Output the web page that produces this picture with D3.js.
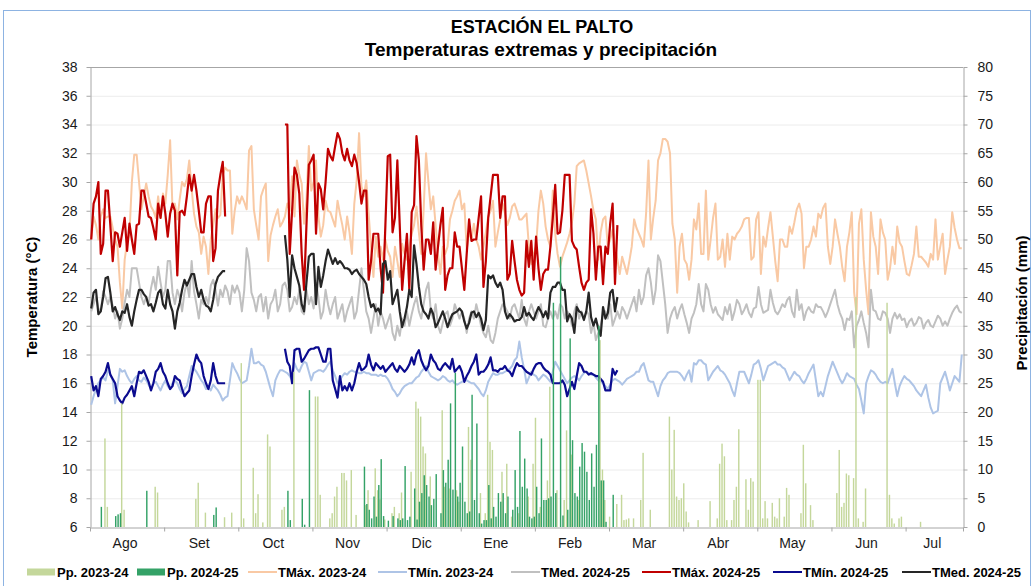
<!DOCTYPE html>
<html>
<head>
<meta charset="utf-8">
<script src="https://cdn.jsdelivr.net/npm/d3@7"></script>
<style>
  body { margin: 0; background: #fff; }
  svg { display: block; font-family: "Liberation Sans", Arial, sans-serif; }
</style>
</head>
<body>
<script>
// ---- data (daily values, Aug -> Jul) ----
var monthLabels = ["Ago", "Set", "Oct", "Nov", "Dic", "Ene", "Feb", "Mar", "Abr", "May", "Jun", "Jul"];

// TMax 2023-24
var tmax2324 = [
  26.0,27.6,27.0,26.0,27.6,28.1,27.5,27.6,27.6,26.8,26.0,25.5,23.0,21.2,24.6,25.8,26.4,30.0,31.9,31.9,30.0,28.1,29.0,29.9,29.0,28.3,28.0,27.5,29.0,27.5,29.2, // ago
  28.5,30.5,32.9,28.1,28.5,27.4,28.8,30.0,29.7,30.2,31.5,29.5,27.8,26.9,26.5,25.0,26.2,25.5,23.6,26.0,27.0,28.1,27.5,27.7,30.5,31.0,30.8,30.8,26.4,28.0, // set
  29.0,28.5,29.0,28.6,28.1,32.2,32.5,28.1,27.0,26.0,29.0,29.5,29.9,24.5,26.3,27.0,27.6,28.1,26.9,27.2,27.6,28.5,28.0,30.4,27.6,31.5,30.5,29.9,27.1,28.7,32.5, // oct
  29.4,30.0,31.5,27.6,26.2,27.0,28.7,28.0,27.9,27.4,26.9,28.7,27.8,27.0,26.0,27.6,26.5,25.0,28.5,30.1,33.4,29.7,29.0,30.1,27.8,25.5,23.4,26.2,24.8,25.5, // nov
  24.6,26.0,25.2,24.8,23.4,25.5,24.5,23.4,25.7,25.0,24.6,25.5,26.4,27.0,28.3,26.5,25.0,28.1,32.0,30.0,28.1,29.0,27.0,25.0,23.6,25.5,25.0,25.5,27.4,28.0,28.7, // dic
  29.0,29.4,28.1,28.5,25.3,26.5,26.0,27.1,26.0,25.5,24.6,25.5,26.5,27.6,28.0,28.7,25.5,26.5,27.4,28.5,27.8,27.0,27.5,28.3,28.5,28.0,27.4,27.4,27.6,27.8,25.5, // ene
  24.3,25.0,25.5,28.0,29.4,28.5,26.9,26.0,25.5,29.4,26.4,25.0,24.1,24.8,25.3,25.8,26.4,27.2,28.5,31.1,31.3,31.4,31.5,30.8,29.9,29.0,28.0,27.4,24.6, // feb
  26.5,27.4,27.6,25.5,26.0,26.7,25.5,24.6,23.6,24.8,24.2,23.6,24.5,25.5,27.4,26.8,26.4,26.0,25.5,27.8,31.5,26.0,27.5,28.7,31.5,32.0,33.0,33.0,32.8,32.0,27.1, // mar
  26.0,22.3,25.5,26.4,24.6,24.3,23.2,24.6,27.4,26.7,28.5,25.0,25.0,29.4,24.6,26.0,27.5,28.5,24.6,24.8,26.0,24.1,26.4,24.6,26.2,26.0,26.4,26.6,26.9,27.4, // abr
  27.5,27.5,24.6,24.8,27.4,27.9,23.6,26.2,25.5,26.8,27.9,26.2,24.5,23.1,26.0,26.0,25.5,25.5,26.9,26.4,27.2,28.1,28.5,27.8,24.0,25.5,25.5,26.0,26.9,26.2,27.8, // may
  27.5,28.2,28.5,25.5,24.3,25.5,27.4,26.4,25.5,24.1,23.1,25.5,26.5,27.9,22.3,20.8,27.1,28.1,24.6,22.5,20.8,27.9,26.2,25.5,23.6,27.4,26.5,26.0,23.2,24.0, // jun
  25.5,24.3,26.9,25.8,25.5,24.5,23.6,23.5,24.2,25.0,26.9,24.8,24.8,24.6,24.4,24.1,25.0,24.6,27.4,24.6,25.5,26.4,23.6,24.6,25.5,27.9,26.8,26.0,25.4,25.4  // jul
];

// TMin 2023-24
var tmin2324 = [
  14.5,15.1,15.6,16.0,16.2,16.4,16.2,16.9,16.6,16.2,14.6,15.8,17.0,16.8,16.9,16.5,16.2,16.0,16.3,16.5,16.2,16.1,16.4,16.2,15.9,15.6,16.0,16.1,15.8,15.5,15.9,
  16.2,15.8,15.6,16.0,16.2,16.0,15.6,15.3,15.6,15.8,16.5,17.2,17.0,16.8,16.5,16.2,16.0,15.6,15.8,15.5,15.9,15.7,15.5,15.2,14.8,15.0,15.1,16.2,17.4,17.0,
  16.7,16.3,16.0,16.1,16.2,17.2,18.4,17.4,17.4,17.5,17.3,17.2,16.8,16.2,15.6,15.1,16.2,16.6,16.9,16.9,16.8,16.7,16.5,16.2,17.4,17.0,16.8,17.2,17.5,17.4,16.8,
  16.2,16.7,16.8,16.9,16.9,16.8,17.0,17.3,17.5,16.9,16.5,16.0,16.2,16.5,16.7,16.6,16.8,16.9,16.8,16.8,16.7,16.7,16.8,16.7,16.7,16.6,16.6,16.6,16.5,16.6,
  16.5,16.5,16.3,16.0,15.6,15.4,15.1,15.3,15.6,15.8,15.9,16.0,16.0,16.2,16.4,16.5,16.8,17.0,17.2,16.8,16.5,16.4,16.3,16.2,16.3,16.5,16.4,16.2,16.1,16.2,16.0,
  15.9,16.0,16.1,16.2,16.2,16.1,16.0,16.0,15.8,15.6,15.3,15.1,15.5,16.1,16.4,16.7,16.6,16.6,16.7,16.7,16.8,16.9,17.0,17.2,17.6,17.8,18.9,17.8,17.0,16.0,16.4,
  16.8,16.6,16.5,16.2,16.4,16.6,16.5,16.3,16.1,16.8,17.5,17.2,16.9,16.6,16.3,16.0,16.2,16.4,16.5,16.4,16.2,16.5,16.7,16.8,16.7,16.6,16.6,16.4,16.2,
  16.1,16.0,15.8,15.6,15.9,16.2,16.3,16.2,16.1,15.9,16.1,16.3,16.4,16.5,16.6,16.8,16.8,17.2,17.4,16.8,16.2,16.1,16.1,15.6,15.1,15.8,16.2,16.4,16.7,16.8,16.8,
  16.8,16.8,16.7,16.5,16.2,16.6,16.9,16.1,17.4,17.3,17.6,17.6,17.4,17.3,16.2,16.5,16.8,17.0,17.2,16.9,16.8,16.6,16.3,16.0,15.5,15.1,16.0,16.8,16.8,16.8,
  16.4,16.0,16.6,17.3,17.4,17.6,17.0,16.2,16.7,17.2,17.3,17.4,17.5,17.3,17.3,17.1,17.0,16.6,16.2,16.5,16.8,16.6,16.5,16.2,16.0,16.3,16.7,17.0,17.3,16.2,15.1,
  15.4,15.1,15.8,16.5,17.0,17.5,17.1,16.7,16.3,16.0,16.3,16.7,16.5,16.4,16.3,15.9,15.6,14.8,13.9,16.0,16.5,16.9,16.8,16.6,16.3,16.1,16.0,16.1,16.0,16.5,
  17.0,16.0,15.1,15.8,16.2,16.5,16.3,16.2,16.0,15.8,15.5,15.3,15.1,15.5,15.9,15.0,14.3,13.9,14.0,14.1,16.0,16.4,16.8,16.2,15.5,16.0,16.5,16.3,16.1,18.0
];

// TMed 2023-24 (legend text in the original reads "TMed. 2024-25")
var tmed2324 = [
  21.0,21.5,22.0,21.2,21.0,22.4,22.0,21.5,22.0,21.4,20.5,21.0,19.8,20.5,21.6,22.5,22.0,24.0,24.0,24.0,23.0,22.0,21.5,22.0,21.5,22.6,23.4,22.5,24.1,23.0,22.0,
  22.5,24.5,24.5,22.3,21.5,22.5,22.0,21.0,22.3,23.0,22.0,24.5,22.4,21.5,20.5,21.8,21.5,22.0,21.5,22.8,23.2,22.5,21.4,22.5,22.0,22.8,22.4,21.5,22.8,22.3,
  22.8,22.3,21.0,22.5,25.4,24.5,22.3,21.8,21.0,22.0,22.2,21.0,22.0,20.5,21.5,21.8,22.5,21.0,21.5,22.8,23.0,22.5,21.0,21.3,22.0,21.5,22.5,21.0,20.8,22.5,21.5,
  22.0,21.2,23.0,22.0,20.5,21.0,22.5,21.5,20.8,21.5,22.0,20.5,21.0,21.5,20.3,21.0,21.5,22.0,20.5,21.0,22.5,24.0,22.5,21.0,20.5,19.5,20.5,21.5,20.0,21.0,
  20.5,19.8,20.3,20.8,19.5,19.0,20.0,19.3,20.5,20.0,21.0,20.0,20.8,21.5,22.0,21.0,20.5,21.5,22.5,23.0,21.0,20.5,21.5,20.0,19.5,20.2,20.8,21.0,20.0,20.5,21.5,
  21.0,20.5,21.0,20.5,19.5,20.5,21.0,20.5,21.5,20.8,20.0,19.5,19.2,20.0,19.0,18.8,19.5,20.5,21.0,21.5,21.3,21.0,20.5,21.3,21.5,21.0,20.5,21.8,20.5,20.0,21.0,
  21.5,21.0,20.5,21.0,21.5,20.0,19.9,20.5,21.0,20.5,21.0,20.5,21.5,21.3,20.5,21.0,20.8,20.0,21.0,21.5,20.5,21.0,20.5,21.0,20.8,19.5,20.2,19.0,19.5,
  20.0,20.8,21.0,20.5,21.5,20.0,20.5,21.0,20.5,21.3,21.0,20.5,21.0,21.5,22.0,21.0,22.5,21.5,22.0,23.5,24.0,23.0,21.5,22.5,24.9,24.5,23.0,21.5,19.5,20.5,21.0,
  21.3,20.5,21.1,21.5,20.8,20.2,19.5,20.5,20.9,21.5,22.9,21.5,21.0,22.9,22.5,21.5,20.9,21.3,20.8,20.6,20.4,21.3,20.8,21.5,20.4,21.0,21.8,21.5,20.8,21.1,
  21.5,20.9,20.6,21.2,21.3,22.7,21.5,20.9,21.0,21.1,22.5,21.6,21.0,20.8,21.1,21.5,21.3,21.8,22.0,21.0,20.6,22.5,21.1,21.5,20.4,21.0,21.3,21.0,20.9,21.5,21.3,
  21.3,21.0,20.6,21.0,21.5,22.0,22.5,21.5,20.9,20.5,19.7,20.5,20.4,21.0,18.5,20.0,20.4,21.0,20.2,19.5,18.5,22.5,21.1,21.0,20.5,20.4,21.0,20.9,20.5,19.5,
  20.5,20.9,20.5,20.8,20.4,20.5,19.9,20.3,20.5,20.0,20.2,20.6,20.5,19.8,20.2,20.4,20.0,19.9,20.3,20.7,20.5,20.0,20.3,20.0,20.5,20.9,21.2,21.4,21.0,20.9
];

// 2024-25 records come in two stretches: from day 0 and from day 81 (22 Oct)
var segStart2425 = [0, 81];

var tmax2425a = [
  26.0,28.5,29.0,30.0,25.0,25.7,29.4,29.4,27.0,24.5,26.5,26.4,25.5,26.5,27.5,25.2,27.1,26.0,25.0,27.0,
  27.1,29.4,29.4,28.5,27.6,27.5,26.8,26.0,28.5,27.5,29.0,27.8,26.2,27.8,28.5,28.0,23.5,27.9,28.0,27.7,
  29.0,30.5,29.4,30.5,29.4,28.0,26.5,26.5,28.5,29.0,29.0,24.5,25.4,29.4,30.5,31.4,27.6
];
var tmax2425b = [
  34.0,34.0,25.0,28.0,31.0,30.5,29.2,25.0,22.5,27.0,31.2,31.5,31.9,26.4,29.9,29.5,28.1,30.0,32.3,31.8,
  31.5,32.5,33.4,33.0,32.0,31.5,32.3,31.5,31.1,31.9,31.3,30.0,28.5,29.4,29.4,23.2,24.5,26.4,26.4,26.4,
  24.0,22.3,27.0,31.8,31.9,26.5,27.5,31.5,27.0,22.5,24.5,26.4,22.5,27.9,28.4,33.2,31.5,27.0,23.9,26.0,
  26.0,25.0,27.2,23.9,25.5,27.0,28.2,22.5,23.5,24.0,24.0,26.5,25.5,25.5,24.0,22.5,25.0,27.4,25.9,26.0,
  26.0,27.5,29.0,22.7,24.5,27.5,29.0,30.5,30.5,30.5,27.5,29.0,29.0,23.2,23.6,25.9,24.5,23.2,22.5,22.1,
  22.3,25.9,24.1,25.9,23.2,26.2,24.0,22.5,23.6,23.9,23.9,25.5,27.5,29.8,26.4,26.5,28.0,30.5,30.5,30.5,
  25.9,25.5,25.3,24.1,23.0,22.5,23.0,23.2,28.1,26.4,23.2,25.5,25.5,22.9,25.5,25.0,27.1,28.5,22.9,27.0
];

var tmin2425a = [
  16.5,15.5,15.8,15.1,16.3,16.5,16.8,17.4,16.6,16.3,16.0,15.1,14.8,14.6,15.0,15.2,15.5,15.8,15.1,16.0,
  16.8,16.7,16.9,16.5,16.1,15.5,16.0,16.8,17.0,17.4,16.8,16.5,16.0,15.6,15.8,16.5,16.3,16.2,15.6,15.1,
  15.3,15.5,16.5,17.3,18.0,17.6,17.4,16.5,16.0,15.6,16.2,17.4,16.5,16.0,16.0,16.0,16.0
];
var tmin2425b = [
  18.4,17.5,17.2,16.0,18.3,18.4,18.4,17.5,17.7,18.0,18.3,18.4,18.4,18.5,18.5,18.0,17.5,17.5,18.4,18.4,
  16.2,15.6,15.0,16.5,15.5,15.8,15.5,16.0,15.5,16.0,16.8,17.4,16.9,17.0,17.2,18.0,17.3,16.9,17.4,17.2,
  17.0,17.2,16.8,17.0,17.2,17.4,17.0,16.8,17.2,17.0,16.8,17.0,17.3,17.8,17.3,18.0,18.3,17.6,17.2,16.9,
  17.2,18.0,17.6,17.4,17.0,16.9,17.2,17.4,17.2,17.0,17.7,16.8,17.0,17.2,16.8,16.1,16.5,16.8,17.2,17.5,
  18.0,16.6,16.8,16.8,17.0,17.3,17.8,16.9,16.9,16.8,17.0,17.0,17.2,16.9,16.8,16.5,17.0,17.4,17.2,17.2,
  17.0,16.8,16.7,16.6,17.0,17.3,17.4,17.4,17.1,16.9,16.8,16.6,16.0,16.0,16.0,16.0,16.2,15.9,15.1,15.6,
  16.1,15.6,16.5,17.4,17.2,16.8,16.8,16.6,16.7,16.6,16.5,16.5,16.3,16.1,15.5,15.5,15.5,17.0,16.6,16.9
];

var tmed2425a = [
  21.2,22.3,22.5,20.8,21.0,22.0,23.3,23.4,22.3,21.0,21.3,20.8,20.4,21.0,20.9,21.5,20.6,20.0,21.0,21.8,
  22.5,22.5,22.2,22.0,21.4,21.5,21.0,21.6,22.3,22.5,21.5,21.2,22.5,21.5,21.0,19.8,21.0,21.6,22.5,23.2,
  22.8,23.2,23.6,23.6,22.7,22.0,22.5,21.8,21.4,21.3,21.0,21.8,22.9,23.4,23.6,23.8,23.8
];
var tmed2425b = [
  26.3,24.6,22.0,24.9,24.0,23.4,22.8,21.5,21.0,23.0,24.8,25.0,25.0,21.5,24.1,22.7,23.5,24.5,25.3,24.8,
  24.3,24.7,24.3,24.5,24.3,24.0,24.0,23.9,23.6,23.8,23.9,23.6,23.4,23.2,22.9,22.0,21.3,21.5,21.0,21.2,
  20.8,24.3,24.5,23.2,23.8,21.5,22.0,22.5,21.0,19.9,20.5,21.3,22.5,22.0,25.6,24.3,22.7,21.5,21.0,20.8,
  20.5,21.2,20.8,19.9,20.2,20.6,21.0,20.5,19.9,20.4,20.8,20.9,21.0,21.2,21.0,20.3,19.8,20.2,20.9,21.0,
  20.6,20.9,20.5,19.7,20.4,23.5,23.3,23.5,23.0,22.7,23.0,22.5,21.0,20.5,20.8,20.6,20.3,20.4,20.4,20.6,
  21.3,20.7,20.9,20.6,20.4,20.9,21.3,21.0,20.6,21.0,20.5,22.3,22.7,22.7,23.0,23.0,22.5,22.5,20.3,20.8,
  20.5,19.5,21.3,21.0,20.9,20.4,21.0,22.3,20.6,20.0,20.5,19.8,19.3,21.3,20.5,20.9,22.3,22.5,21.0,22.0
];

// daily rainfall, [day, mm] for the rainy days only
var pp2324 = [
  [6,15.4],[7,3.5],[13,21.5],[14,3.0],[27,7.0],[28,6.0],[44,4.9],[45,7.7],[48,2.5],[56,1.7],[59,2.5],
  [63,28.5],[64,1.5],[68,10.3],[69,2.4],[70,5.7],[72,0.8],[74,16.1],[75,14.0],[80,3.0],[81,3.5],[85,27.0],
  [94,22.7],[95,22.7],[96,5.6],[100,1.5],[101,2.4],[102,5.3],[103,7.0],[105,9.4],[106,9.4],[107,8.1],[109,9.9],
  [111,2.1],[115,3.8],[116,6.4],[119,10.2],[120,6.4],[121,4.8],[123,1.3],[126,2.4],[127,3.5],[129,2.4],[130,6.0],
  [134,9.6],[136,21.8],[137,20.6],[138,19.2],[139,14.0],[140,12.8],[142,8.8],[147,20.3],[148,7.0],[150,6.7],
  [153,6.4],[154,4.4],[158,17.4],[159,11.7],[163,5.9],[165,2.4],[166,23.0],[167,14.8],[168,13.4],[172,9.6],
  [174,11.0],[176,1.8],[179,2.4],[183,5.3],[185,11.0],[186,19.0],[188,3.5],[191,8.1],[192,24.4],[195,6.4],
  [198,4.7],[199,16.8],[201,12.6],[204,4.7],[213,32.5],[214,10.0],[215,4.7],[217,1.8],[220,4.0],[222,5.6],
  [223,1.2],[224,1.3],[225,1.5],[227,1.5],[230,4.7],[231,12.9],[234,3.0],[242,19.2],[243,10.0],[244,16.9],
  [245,5.3],[246,4.7],[247,5.0],[248,7.6],[249,2.7],[250,0.8],[254,1.2],[259,4.5],[262,1.5],[263,11.0],
  [264,14.5],[265,12.3],[266,1.2],[268,1.2],[269,4.7],[270,7.0],[271,17.0],[274,8.3],[275,3.0],[276,8.5],
  [277,7.9],[279,25.6],[280,25.6],[281,1.5],[282,4.5],[283,1.5],[285,4.2],[286,1.8],[287,1.5],[288,5.0],
  [290,1.8],[291,6.8],[292,5.6],[297,2.4],[298,14.3],[299,7.6],[301,3.8],[302,1.2],[312,5.9],[313,13.4],
  [314,3.5],[315,4.2],[316,9.3],[317,9.0],[319,8.5],[320,40.0],[321,1.5],[323,0.9],[324,6.7],[333,39.0],
  [334,5.6],[335,1.5],[336,0.6],[338,1.5],[339,1.8],[347,0.9]
];
var pp2425 = [
  [4,3.5],[10,1.9],[11,2.2],[12,2.4],[23,6.3],[51,2.1],[52,3.4],[82,6.3],[83,1.2],[88,4.9],[89,0.4],[91,23.8],
  [114,10.5],[115,4.0],[116,3.0],[117,1.5],[118,5.3],[119,1.8],[120,7.3],[121,11.8],[122,1.9],[124,1.1],
  [126,1.9],[128,1.5],[129,1.2],[130,1.5],[131,10.6],[132,1.2],[133,1.8],[135,6.7],[136,1.3],[137,4.4],
  [138,5.9],[139,9.0],[140,7.3],[141,5.3],[142,3.8],[143,4.9],[144,9.2],[146,2.4],[147,9.9],[148,7.7],
  [149,11.7],[150,21.5],[151,6.5],[152,26.8],[153,5.3],[154,7.7],[155,14.0],[156,4.4],[157,2.4],[158,2.7],
  [159,23.0],[160,4.7],[161,18.0],[162,2.4],[163,0.6],[164,1.2],[165,1.2],[166,7.3],[167,1.5],[168,3.5],
  [169,1.8],[170,5.9],[171,4.4],[172,5.9],[173,2.4],[174,5.3],[176,3.0],[177,9.9],[178,3.5],[179,16.7],
  [180,7.0],[181,11.9],[182,6.7],[183,1.8],[184,1.5],[185,1.8],[186,7.0],[187,2.4],[188,15.4],[189,4.7],
  [190,4.7],[191,5.0],[192,5.3],[193,39.0],[194,5.9],[196,47.0],[197,2.0],[199,3.0],[200,32.8],[201,15.1],
  [202,5.9],[203,5.3],[204,10.5],[205,14.6],[206,13.1],[207,9.6],[208,4.7],[209,12.8],[210,7.0],[211,14.3],
  [212,35.0],[213,8.1],[214,8.1],[215,0.9],[218,5.6]
];

var tempTicks = [6, 8, 10, 12, 14, 16, 18, 20, 22, 24, 26, 28, 30, 32, 34, 36, 38];
var ppTicks = [0, 5, 10, 15, 20, 25, 30, 35, 40, 45, 50, 55, 60, 65, 70, 75, 80];
var monthLen = 31; // the category axis puts a tick every 31 days

// ---- layout ----
var W = 1034, H = 586;
var plot = { left: 90, right: 963, top: 67, bottom: 527 };
var axisGray = "#a6a6a6";

var svg = d3.select("body").append("svg")
    .attr("width", W)
    .attr("height", H);

svg.append("rect").attr("width", W).attr("height", H).attr("fill", "#fff");
svg.append("rect")
    .attr("x", 3.5).attr("y", 10.5)
    .attr("width", 1027).attr("height", 600)
    .attr("fill", "none")
    .attr("stroke", "#8db3e2");

var nDays = tmax2324.length;
var x = d3.scaleLinear().domain([0, nDays]).range([plot.left, plot.right]);
var yT = d3.scaleLinear().domain([6, 38]).range([plot.bottom, plot.top]);
var yP = d3.scaleLinear().domain([0, 80]).range([plot.bottom, plot.top]);

// gridlines
svg.append("g")
    .selectAll("line")
    .data(tempTicks.slice(1, -1))
    .enter()
    .append("line")
    .attr("x1", plot.left).attr("x2", plot.right)
    .attr("y1", function(d) { return yT(d) + 0.5; })
    .attr("y2", function(d) { return yT(d) + 0.5; })
    .attr("stroke", "#ececec");

svg.append("line")
    .attr("x1", plot.left).attr("x2", plot.right)
    .attr("y1", plot.top + 0.5).attr("y2", plot.top + 0.5)
    .attr("stroke", axisGray);

// axes
function styleAxis(g) {
    g.selectAll(".domain").attr("stroke", axisGray);
    g.selectAll(".tick line").attr("stroke", axisGray);
    g.selectAll("text").attr("fill", "#1a1a1a").style("font-size", "14px");
}

svg.append("g")
    .attr("transform", "translate(" + (plot.left + 0.5) + ",0)")
    .call(d3.axisLeft(yT).tickValues(tempTicks).tickSize(4).tickSizeOuter(0).tickPadding(9))
    .call(styleAxis);

svg.append("g")
    .attr("transform", "translate(" + (plot.right + 0.5) + ",0)")
    .call(d3.axisRight(yP).tickValues(ppTicks).tickSize(4).tickSizeOuter(0).tickPadding(10))
    .call(styleAxis);

var monthTicks = d3.range(0, nDays, monthLen).concat([nDays]);
svg.append("g")
    .attr("transform", "translate(0," + (plot.bottom + 0.5) + ")")
    .call(d3.axisBottom(x).tickValues(monthTicks).tickSize(4).tickSizeOuter(0).tickFormat(""))
    .call(styleAxis);

svg.append("g")
    .selectAll("text")
    .data(monthLabels)
    .enter()
    .append("text")
    .attr("x", function(d, i) {
        var a = i * monthLen, b = Math.min(nDays, a + monthLen);
        return x((a + b) / 2) - 2;
    })
    .attr("y", plot.bottom + 21)
    .attr("text-anchor", "middle")
    .style("font-size", "14px")
    .attr("fill", "#1a1a1a")
    .text(function(d) { return d; });

// ---- lines ----
var line = d3.line()
    .x(function(d) { return x(d.day + 0.5); })
    .y(function(d) { return yT(d.v); });

function daily(arr, start) {
    return arr.map(function(v, i) { return { day: start + i, v: v }; });
}

function drawLine(data, color, width) {
    svg.append("path")
        .datum(data)
        .attr("fill", "none")
        .attr("stroke", color)
        .attr("stroke-width", width)
        .attr("stroke-linejoin", "round")
        .attr("d", line);
}

var c = {
    tmax2324: "#f9c9a4",
    tmin2324: "#aec4e6",
    tmed2324: "#c0c0c0",
    tmax2425: "#c00000",
    tmin2425: "#0b0b8f",
    tmed2425: "#262626",
    pp2324: "#c4d79b",
    pp2425: "#34a267"
};

drawLine(daily(tmax2324, 0), c.tmax2324, 2);
drawLine(daily(tmin2324, 0), c.tmin2324, 2);
drawLine(daily(tmed2324, 0), c.tmed2324, 2);

[[tmax2425a, tmax2425b, c.tmax2425], [tmin2425a, tmin2425b, c.tmin2425], [tmed2425a, tmed2425b, c.tmed2425]]
    .forEach(function(s) {
        drawLine(daily(s[0], segStart2425[0]), s[2], 2.2);
        drawLine(daily(s[1], segStart2425[1]), s[2], 2.2);
    });

// ---- rainfall bars (secondary axis, drawn over the lines) ----
var band = x(1) - x(0);
var barW = band * 0.6;

function drawBars(data, color, shift) {
    svg.append("g")
        .selectAll("rect")
        .data(data)
        .enter()
        .append("rect")
        .attr("x", function(d) { return x(d[0] + 0.5) + shift - barW / 2; })
        .attr("y", function(d) { return yP(d[1]); })
        .attr("width", barW)
        .attr("height", function(d) { return yP(0) - yP(d[1]); })
        .attr("fill", color);
}
drawBars(pp2324, c.pp2324, -band * 0.25);
drawBars(pp2425, c.pp2425, band * 0.25);

// ---- titles ----
svg.append("text")
    .attr("x", 542).attr("y", 33)
    .attr("text-anchor", "middle")
    .style("font-size", "18px").style("font-weight", "bold")
    .text("ESTACIÓN EL PALTO");
svg.append("text")
    .attr("x", 541).attr("y", 56)
    .attr("text-anchor", "middle")
    .style("font-size", "19px").style("font-weight", "bold")
    .text("Temperaturas extremas y precipitación");

svg.append("text")
    .attr("transform", "translate(37,297) rotate(-90)")
    .attr("text-anchor", "middle")
    .style("font-size", "15px").style("font-weight", "bold")
    .text("Temperatura (°C)");
svg.append("text")
    .attr("transform", "translate(1027,303) rotate(-90)")
    .attr("text-anchor", "middle")
    .style("font-size", "15px").style("font-weight", "bold")
    .text("Precipitación (mm)");

// ---- legend ----
var legendItems = [
    { label: "Pp. 2023-24", color: c.pp2324, type: "bar", x: 27 },
    { label: "Pp. 2024-25", color: c.pp2425, type: "bar", x: 137 },
    { label: "TMáx. 2023-24", color: c.tmax2324, type: "line", x: 248 },
    { label: "TMín. 2023-24", color: c.tmin2324, type: "line", x: 378 },
    { label: "TMed. 2024-25", color: c.tmed2324, type: "line", x: 511 },
    { label: "TMáx. 2024-25", color: c.tmax2425, type: "line", x: 642 },
    { label: "TMín. 2024-25", color: c.tmin2425, type: "line", x: 773 },
    { label: "TMed. 2024-25", color: c.tmed2425, type: "line", x: 902 }
];
var legend = svg.append("g").attr("transform", "translate(0,572)");
legendItems.forEach(function(it) {
    if (it.type === "bar") {
        legend.append("rect").attr("x", it.x).attr("y", -3.5).attr("width", 28).attr("height", 7).attr("fill", it.color);
    } else {
        legend.append("line").attr("x1", it.x).attr("x2", it.x + 29).attr("y1", 0).attr("y2", 0)
            .attr("stroke", it.color).attr("stroke-width", 2);
    }
    legend.append("text")
        .attr("x", it.x + 30).attr("y", 4.5)
        .style("font-size", "13px").style("font-weight", "bold")
        .text(it.label);
});
</script>
</body>
</html>
